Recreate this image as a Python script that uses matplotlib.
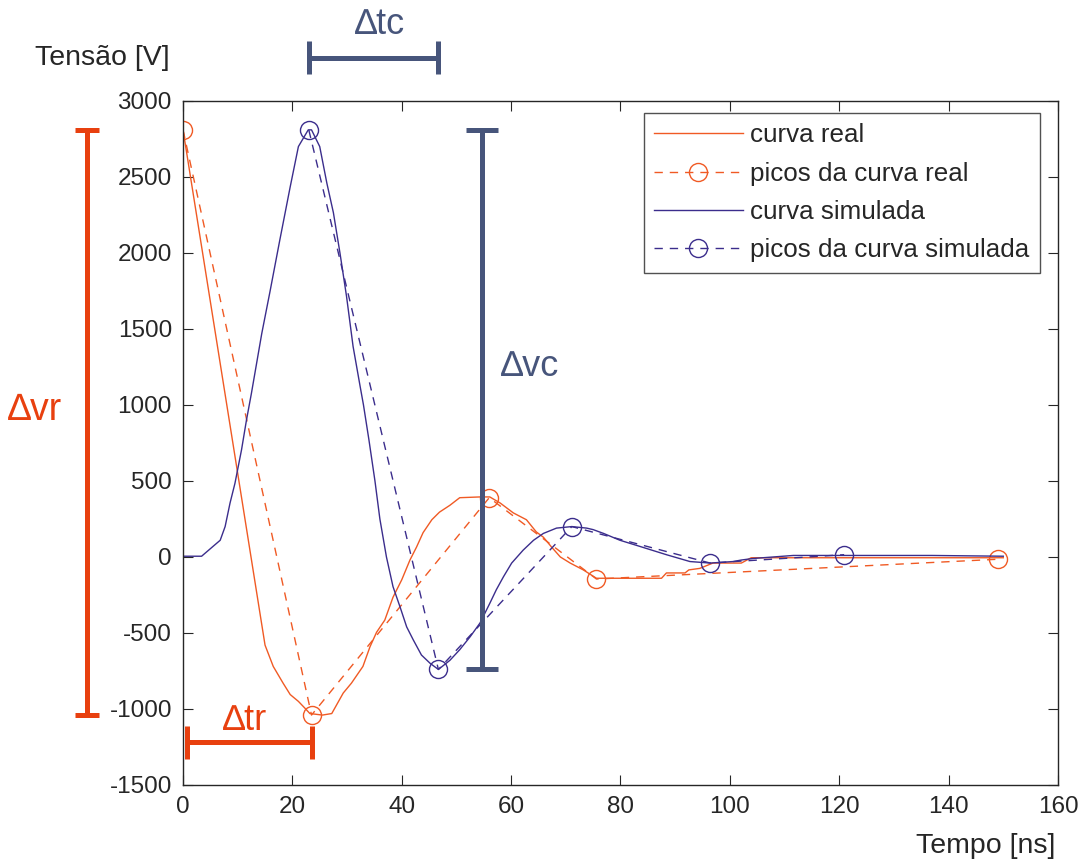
import matplotlib.pyplot as plt

plt.rcParams['font.family'] = ['Liberation Sans', 'DejaVu Sans']
plt.rcParams['axes.unicode_minus'] = False

# ---- curva real (medida) ----
t_real = [0, 15.0, 16.5, 18.3, 19.6, 21.1, 22.3, 23.2, 25.5, 27.2, 29.3, 30.8,
          32.9, 34.2, 35.4, 36.9, 38.4, 40.0, 41.5, 42.7, 43.9, 45.5, 46.9,
          48.8, 50.6, 54.3, 56.1, 58.0, 60.4, 62.8, 64.6, 65.9, 67.4, 69.0,
          70.8, 73.2, 75.6, 87.5, 88.4, 91.8, 92.5, 94.5, 96.9, 102.1, 103.9, 150]
v_real = [2810, -580, -720, -830, -905, -950, -995, -1030, -1040, -1030, -895, -830,
          -720, -590, -495, -415, -265, -150, -20, 65, 160, 245, 295,
          340, 390, 395, 395, 355, 290, 245, 165, 130, 65, 0,
          -40, -85, -140, -140, -105, -105, -85, -75, -40, -40, -5, -5]

# ---- curva simulada ----
t_sim = [0, 3.4, 5.5, 6.8, 7.7, 8.6, 9.5, 10.1, 10.7, 11.6, 12.5, 14.4, 15.9,
         17.7, 19.6, 21.1, 22.9, 23.5, 25.0, 26.3, 27.5, 28.7, 29.9, 31.1, 32.4,
         33.0, 34.0, 35.1, 36.0, 37.2, 38.4, 39.7, 40.9, 42.1, 43.6,
         45.2, 46.7, 48.8, 50.6, 52.5, 54.3, 56.1, 57.3, 58.6, 60.1, 62.2, 64.1,
         65.9, 68.3, 71.1, 73.8, 75.0, 76.9, 79.9, 83.5, 88.4, 92.7, 96.4, 100.6,
         102.1, 104.2, 111.6, 137, 150]
v_sim = [5, 5, 70, 110, 200, 355, 485, 595, 705, 900, 1075, 1470, 1745,
         2085, 2435, 2700, 2810, 2810, 2700, 2460, 2265, 2000, 1715, 1385, 1120,
         1000, 770, 500, 250, 0, -195, -330, -460, -545, -645,
         -700, -740, -680, -610, -525, -435, -305, -215, -130, -40, 45, 110,
         155, 190, 200, 190, 180, 155, 110, 70, 15, -30, -40, -30,
         -20, -10, 10, 10, 5]

# ---- picos ----
t_pk_real = [0, 23.5, 56.0, 75.6, 149.0]
v_pk_real = [2810, -1040, 390, -145, -15]
t_pk_sim = [23.0, 46.7, 71.1, 96.4, 120.9]
v_pk_sim = [2810, -740, 200, -40, 15]

c_real = '#f05a24'
c_sim = '#3b2d8c'
c_real_ann = '#e8400f'
c_sim_ann = '#47557b'
c_txt = '#262626'

fig = plt.figure(figsize=(10.81, 8.63), dpi=100)
ax = fig.add_axes([0.1693, 0.0904, 0.8094, 0.7926])

ax.plot(t_real, v_real, '-', color=c_real, lw=1.0, label='curva real')
ax.plot(t_pk_real, v_pk_real, '--o', color=c_real, lw=1.0, ms=13,
        mfc='none', mew=1.0, dashes=(6, 5), label='picos da curva real')
ax.plot(t_sim, v_sim, '-', color=c_sim, lw=1.0, label='curva simulada')
ax.plot(t_pk_sim, v_pk_sim, '--o', color=c_sim, lw=1.0, ms=13,
        mfc='none', mew=1.0, dashes=(6, 5), label='picos da curva simulada')

ax.set_xlim(0, 160)
ax.set_ylim(-1500, 3000)
ax.set_xticks(range(0, 161, 20))
ax.set_yticks(range(-1500, 3001, 500))
ax.tick_params(direction='in', top=True, right=True, length=7,
               labelsize=17.5, colors=c_txt, pad=8)
for s in ax.spines.values():
    s.set_color(c_txt)
    s.set_linewidth(1.0)

leg = ax.legend(loc='upper right', bbox_to_anchor=(0.9794, 0.9825),
                borderaxespad=0, fontsize=18.7, handlelength=3.4,
                handletextpad=0.3, numpoints=1, fancybox=False,
                edgecolor=c_txt, labelspacing=0.55, borderpad=0.4)
leg.get_frame().set_linewidth(1.0)
for txt in leg.get_texts():
    txt.set_color(c_txt)

fig.text(0.032, 0.933, 'Tensão [V]', fontsize=20.5, color=c_txt, va='center')
fig.text(0.976, 0.005, 'Tempo [ns]', fontsize=20.5, color=c_txt, ha='right', va='bottom')

# ---- marcadores de diferença (fora da área do gráfico) ----
bw = 3.6
kw = dict(clip_on=False, lw=bw, solid_capstyle='butt')

# delta v real
xr = -17.6
ax.plot([xr, xr], [v_pk_real[0], v_pk_real[1]], color=c_real_ann, **kw)
for v in (v_pk_real[0], v_pk_real[1]):
    ax.plot([xr - 2.2, xr + 2.2], [v, v], color=c_real_ann, **kw)
ax.text(-27, 970, '∆vr', color=c_real_ann, fontsize=27, ha='center', va='center',
        clip_on=False)

# delta t real
yr = -1220
ax.plot([0.7, t_pk_real[1]], [yr, yr], color=c_real_ann, **kw)
for t in (0.7, t_pk_real[1]):
    ax.plot([t, t], [yr - 110, yr + 110], color=c_real_ann, **kw)
ax.text(11.3, -1075, '∆tr', color=c_real_ann, fontsize=26, ha='center', va='center')

# delta t simulada
yc = 3285
ax.plot([t_pk_sim[0], t_pk_sim[1]], [yc, yc], color=c_sim_ann, **kw)
for t in (t_pk_sim[0], t_pk_sim[1]):
    ax.plot([t, t], [yc - 110, yc + 110], color=c_sim_ann, **kw)
ax.text(36.0, 3500, '∆tc', color=c_sim_ann, fontsize=26, ha='center', va='center',
        clip_on=False)

# delta v simulada
xc = 54.7
ax.plot([xc, xc], [v_pk_sim[0], v_pk_sim[1]], color=c_sim_ann, **kw)
for v in (v_pk_sim[0], v_pk_sim[1]):
    ax.plot([xc - 2.9, xc + 2.9], [v, v], color=c_sim_ann, **kw)
ax.text(63.4, 1250, '∆vc', color=c_sim_ann, fontsize=26, ha='center', va='center')

fig.savefig('out.png', dpi=100)
